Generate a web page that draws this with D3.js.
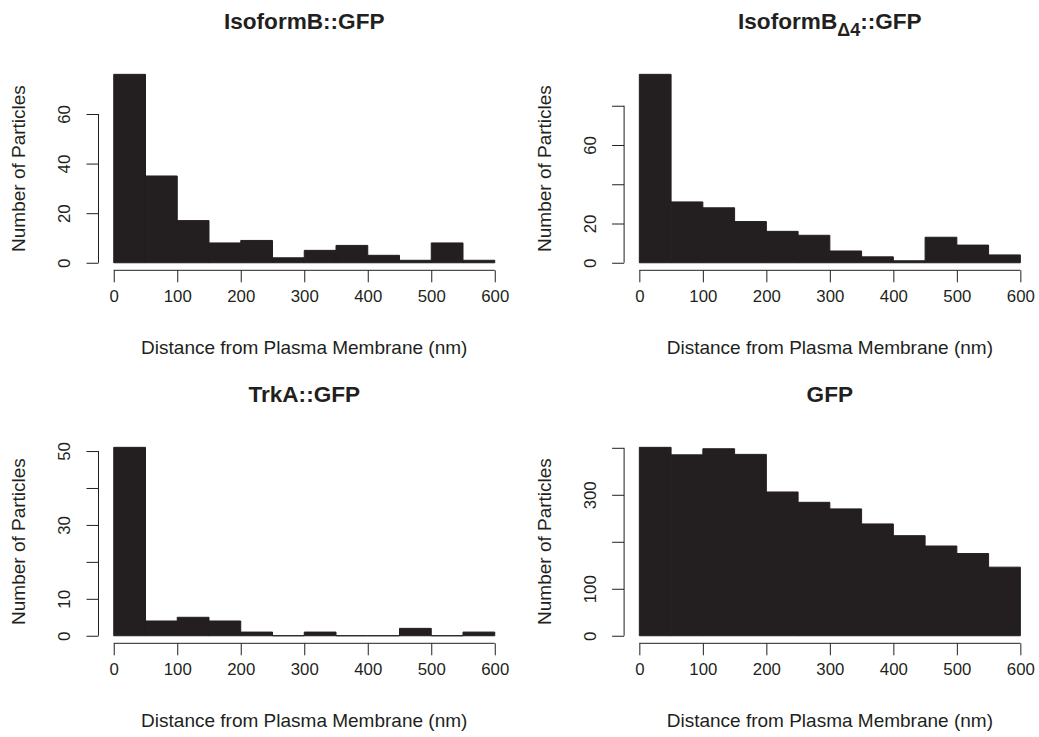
<!DOCTYPE html>
<html>
<head>
<meta charset="utf-8">
<script src="https://cdn.jsdelivr.net/npm/d3@7"></script>
<style>
  body { margin: 0; background: #fff; }
  text { font-family: 'Liberation Sans', Arial, Helvetica, sans-serif; fill: #231f20; }
</style>
</head>
<body>
<div id="chart"></div>
<script>
const width = 1039;
const height = 737;

// bin edges (nm)
const binEdges = [0, 50, 100, 150, 200, 250, 300, 350, 400, 450, 500, 550, 600];
const xTicks = [0, 100, 200, 300, 400, 500, 600];

// counts per bin
const isoformB = [76, 35, 17, 8, 9, 2, 5, 7, 3, 1, 8, 1];
const isoformBd4 = [96, 31, 28, 21, 16, 14, 6, 3, 1, 13, 9, 4];
const trkA = [51, 4, 5, 4, 1, 0, 1, 0, 0, 2, 0, 1];
const gfp = [401, 385, 398, 386, 306, 284, 270, 238, 213, 191, 175, 146];

// y ticks and the labels R kept (others dropped for overlap)
const yTicks1 = [0, 20, 40, 60];
const yLabels1 = ['0', '20', '40', '60'];
const yTicks2 = [0, 20, 40, 60, 80];
const yLabels2 = ['0', '20', '', '60', ''];
const yTicks3 = [0, 10, 20, 30, 40, 50];
const yLabels3 = ['0', '10', '', '30', '', '50'];
const yTicks4 = [0, 100, 200, 300, 400];
const yLabels4 = ['0', '100', '', '300', ''];

const xLabel = 'Distance from Plasma Membrane (nm)';
const yLabel = 'Number of Particles';

const panels = [
  { title: ['IsoformB::GFP'], counts: isoformB, ticks: yTicks1, labels: yLabels1, col: 0, row: 0 },
  { title: ['IsoformB', '\u03944', '::GFP'], counts: isoformBd4, ticks: yTicks2, labels: yLabels2, col: 1, row: 0 },
  { title: ['TrkA::GFP'], counts: trkA, ticks: yTicks3, labels: yLabels3, col: 0, row: 1 },
  { title: ['GFP'], counts: gfp, ticks: yTicks4, labels: yLabels4, col: 1, row: 1 }
];

const colX = [98.5, 624.1];
const rowY = [66.8, 439.8];
const plotW = 411.5;
const plotH = 203.5;
const ink = '#231f20';

const svg = d3.select('#chart')
  .append('svg')
  .attr('width', width)
  .attr('height', height);

svg.append('rect').attr('width', width).attr('height', height).attr('fill', '#fff');

function drawPanel(p) {
  const x0 = colX[p.col];
  const y0 = rowY[p.row];
  const M = d3.max(p.counts);

  const xScale = d3.scaleLinear().domain([-24, 624]).range([x0, x0 + plotW]);
  const yScale = d3.scaleLinear().domain([-0.04 * M, 1.04 * M]).range([y0 + plotH, y0]);

  const g = svg.append('g');

  // bars as closed paths, so empty bins still show their baseline edge
  g.selectAll('path.bar').data(p.counts)
    .enter().append('path')
    .attr('class', 'bar')
    .attr('d', (d, i) => {
      const a = xScale(binEdges[i]);
      const b = xScale(binEdges[i + 1]);
      return `M${a},${yScale(0)}H${b}V${yScale(d)}H${a}Z`;
    })
    .attr('fill', ink)
    .attr('stroke', ink)
    .attr('stroke-width', 1);

  // x axis
  const xAxis = d3.axisBottom(xScale)
    .tickValues(xTicks)
    .tickSize(12)
    .tickSizeOuter(0)
    .tickFormat(d3.format('d'));

  const xg = g.append('g')
    .attr('transform', `translate(0,${y0 + plotH})`)
    .call(xAxis);
  xg.select('.domain').remove();
  xg.append('line')
    .attr('x1', xScale(xTicks[0])).attr('x2', xScale(xTicks[xTicks.length - 1]))
    .attr('stroke', ink);
  xg.selectAll('.tick line').attr('stroke', ink);
  xg.selectAll('.tick text')
    .attr('y', 31.8).attr('dy', 0)
    .attr('font-size', 16.8)
    .attr('fill', ink)
    .style('font-family', "'Liberation Sans', Arial, sans-serif");

  // y axis
  const yAxis = d3.axisLeft(yScale)
    .tickValues(p.ticks)
    .tickSize(12)
    .tickSizeOuter(0)
    .tickFormat((d, i) => p.labels[i]);

  const yg = g.append('g')
    .attr('transform', `translate(${x0},0)`)
    .call(yAxis);
  yg.select('.domain').remove();
  yg.append('line')
    .attr('y1', yScale(p.ticks[0])).attr('y2', yScale(p.ticks[p.ticks.length - 1]))
    .attr('stroke', ink);
  yg.selectAll('.tick line').attr('stroke', ink);
  yg.selectAll('.tick text')
    .attr('x', 0).attr('y', -28.6).attr('dy', 0)
    .attr('transform', 'rotate(-90)')
    .attr('text-anchor', 'middle')
    .attr('font-size', 16.8)
    .attr('fill', ink)
    .style('font-family', "'Liberation Sans', Arial, sans-serif");

  // axis titles
  g.append('text')
    .attr('x', x0 + plotW / 2)
    .attr('y', y0 + plotH + 84)
    .attr('text-anchor', 'middle')
    .attr('font-size', 19)
    .text(xLabel);

  g.append('text')
    .attr('transform', `translate(${x0 - 73.5},${y0 + plotH / 2}) rotate(-90)`)
    .attr('text-anchor', 'middle')
    .attr('font-size', 19)
    .text(yLabel);

  // main title (with subscript when given)
  const t = g.append('text')
    .attr('x', x0 + plotW / 2)
    .attr('y', y0 - 37.8)
    .attr('text-anchor', 'middle')
    .attr('font-size', 22.6)
    .attr('font-weight', 'bold');
  t.append('tspan').text(p.title[0]);
  if (p.title.length > 1) {
    t.append('tspan').attr('dy', 7).attr('font-size', 18).text(p.title[1]);
    t.append('tspan').attr('dy', -7).text(p.title[2]);
  }
}

panels.forEach(drawPanel);
</script>
</body>
</html>
